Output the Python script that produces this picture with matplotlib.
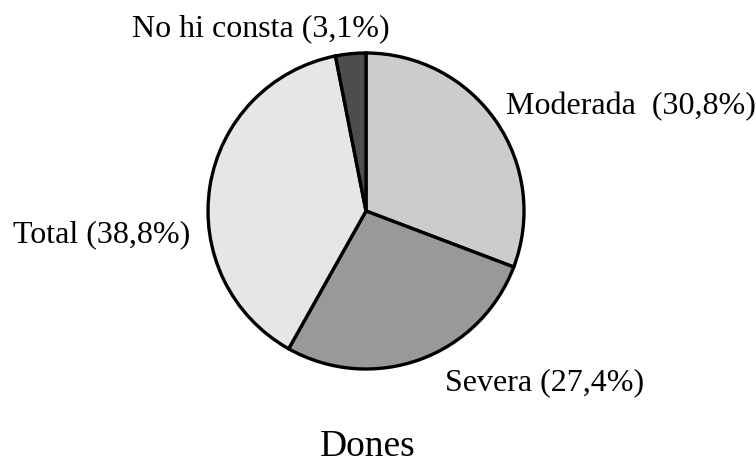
import matplotlib
matplotlib.use("Agg")
import matplotlib.pyplot as plt

categories = ["Moderada", "Severa", "Total", "No hi consta"]
values = [30.8, 27.4, 38.8, 3.1]
colors = ["#cccccc", "#999999", "#e6e6e6", "#4d4d4d"]
label_texts = ["Moderada  (30,8%)", "Severa (27,4%)", "Total (38,8%)", "No hi consta (3,1%)"]
title = "Dones"

plt.rcParams["font.family"] = ["Liberation Serif", "DejaVu Serif"]

W, H = 756, 465
fig = plt.figure(figsize=(W / 100, H / 100), dpi=100)
ax = fig.add_axes([0, 0, 1, 1])

# pixel coordinates measured from the top of the picture
cx, cy, r = 366, 211, 158
ax.pie(values, colors=colors, startangle=90, counterclock=False,
       center=(cx, H - cy), radius=r, frame=True,
       wedgeprops=dict(edgecolor="black", linewidth=2.4))
ax.set_xlim(0, W)
ax.set_ylim(0, H)
ax.set_aspect("equal")
ax.axis("off")

# label anchor: x, baseline y (from top), alignment
pos = {
    "Moderada": (506, 114, "left"),
    "Severa": (445, 390, "left"),
    "Total": (13, 242, "left"),
    "No hi consta": (261, 36, "center"),
}
for cat, txt in zip(categories, label_texts):
    x, y, ha = pos[cat]
    ax.text(x, H - y, txt, fontsize=23, ha=ha, va="baseline", color="black")

ax.text(368, H - 456, title, fontsize=27, ha="center", va="baseline", color="black")

fig.savefig("out.png", dpi=100)
